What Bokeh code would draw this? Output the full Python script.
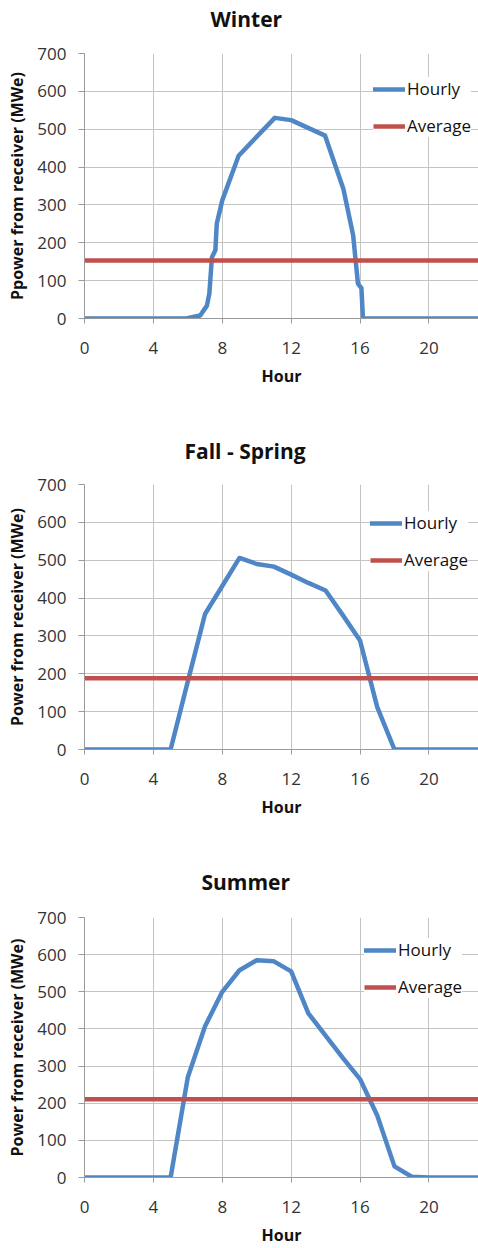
from bokeh.plotting import figure
from bokeh.models import Range1d, FixedTicker, Legend, LegendItem, Title
from bokeh.layouts import column
from bokeh.embed import file_html
from bokeh.resources import INLINE

# ---------------- data ----------------
winter_hour = [0, 5.9, 6.72, 7.11, 7.25, 7.4, 7.6, 7.68, 8.0, 8.95, 11.05, 12.0, 13.97, 15.03, 15.6, 15.88, 16.08, 16.17, 23]
winter_power = [0, 0, 8, 34, 66, 162, 180, 250, 312, 430, 530, 524, 483, 343, 220, 92, 80, 0, 0]
winter_avg = 153

fs_hour = list(range(0, 24))
fs_power = [0, 0, 0, 0, 0, 0, 180, 358, 432, 506, 490, 483, 462, 440, 420, 355, 288, 112, 0, 0, 0, 0, 0, 0]
fs_avg = 188

summer_hour = list(range(0, 24))
summer_power = [0, 0, 0, 0, 0, 0, 270, 407, 500, 558, 585, 582, 555, 442, 382, 322, 265, 167, 30, 2, 0, 0, 0, 0]
summer_avg = 211

avg_hour = [0, 24]

titles = ["Winter", "Fall - Spring", "Summer"]
ylabels = ["Ppower from receiver (MWe)", "Power from receiver (MWe)", "Power from receiver (MWe)"]
xlabel = "Hour"
x_ticks = [0, 4, 8, 12, 16, 20]
y_ticks = [0, 100, 200, 300, 400, 500, 600, 700]

BLUE = "#4f86c6"
RED = "#c0504d"
GRID = "#c4c4c4"
AXIS = "#9a9a9a"
FONT = "Open Sans"

series = [
    (winter_hour, winter_power, winter_avg),
    (fs_hour, fs_power, fs_avg),
    (summer_hour, summer_power, summer_avg),
]

# per chart: (border_top, frame_height, border_bottom, legend_vx, legend_vy,
#             title_offset, title_standoff, title_bottom_padding)
layouts = [
    (53, 265, 98, 289, 181, 126, 6, 16),
    (68, 265, 83, 286, 178, 100, 36, 0),
    (85, 263, 68, 280, 179, 117, 40, 0),
]

figs = []
for i in range(3):
    hx, hy, avg = series[i]
    bt, fh, bb, lvx, lvy, toff, tso, tpb = layouts[i]
    p = figure(width=478, height=bt + fh + bb, output_backend="svg", toolbar_location=None,
               x_range=Range1d(0, 22.88), y_range=Range1d(0, 700),
               min_border_left=84, min_border_right=0, min_border_top=bt, min_border_bottom=bb)
    p.outline_line_color = None
    p.background_fill_color = "white"
    p.border_fill_color = "white"

    p.xaxis.ticker = FixedTicker(ticks=x_ticks)
    p.yaxis.ticker = FixedTicker(ticks=y_ticks)
    for ax in (p.xaxis[0], p.yaxis[0]):
        ax.axis_line_color = AXIS
        ax.major_tick_line_color = AXIS
        ax.minor_tick_line_color = None
        ax.major_tick_in = 0
        ax.major_label_text_font = FONT
        ax.major_label_text_font_size = "17px"
        ax.major_label_text_color = "#333333"
        ax.axis_label_text_font = FONT
        ax.axis_label_text_font_style = "bold"
        ax.axis_label_text_font_size = "16px"
        ax.axis_label_text_color = "#111111"
    p.xaxis.major_tick_out = 5
    p.xaxis.major_label_standoff = 18
    p.xaxis.axis_label = xlabel
    p.xaxis.axis_label_standoff = 8
    p.yaxis.major_tick_out = 6
    p.yaxis.major_label_standoff = 12
    p.yaxis.axis_label = ylabels[i]
    p.yaxis.axis_label_standoff = 6

    p.xgrid.grid_line_color = GRID
    p.ygrid.grid_line_color = GRID
    p.xgrid.ticker = FixedTicker(ticks=x_ticks)
    p.ygrid.ticker = FixedTicker(ticks=y_ticks)

    r1 = p.line(hx, hy, line_color=BLUE, line_width=4.5, line_join="round", line_cap="round")
    r2 = p.line(avg_hour, [avg, avg], line_color=RED, line_width=4.5)

    legend = Legend(items=[LegendItem(label="Hourly", renderers=[r1]),
                           LegendItem(label="Average", renderers=[r2])],
                    location=(lvx, lvy), glyph_width=32, glyph_height=20, label_height=20,
                    spacing=14, padding=6, label_standoff=2, margin=0,
                    background_fill_color="white", background_fill_alpha=1.0,
                    border_line_color=None, label_text_font=FONT,
                    label_text_font_size="17px", label_text_color="#111111")
    p.add_layout(legend)

    p.add_layout(Title(text=titles[i], align="left", offset=toff, vertical_align="top",
                       standoff=tso, padding=dict(top=0, right=0, bottom=tpb, left=0),
                       text_font=FONT, text_font_style="bold",
                       text_font_size="21px", text_color="#111111"), "above")
    figs.append(p)

layout = column(*figs, spacing=0)
open("out.html", "w").write(file_html(layout, INLINE))
